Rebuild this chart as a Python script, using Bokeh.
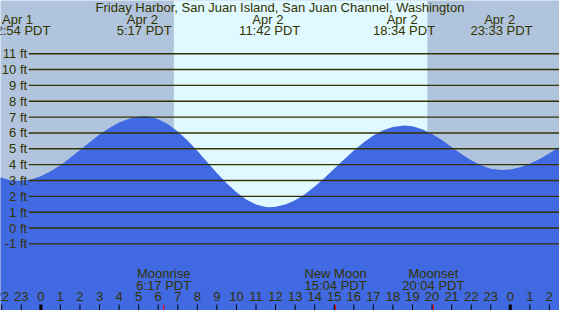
from bokeh.plotting import figure
from bokeh.models import Range1d
from bokeh.core.properties import value
from bokeh.embed import file_html
from bokeh.resources import INLINE

# ---- data (hours relative to Apr 2 00:00 PDT, heights in ft) ----
title = "Friday Harbor, San Juan Island, San Juan Channel, Washington"
tide_hours = [-3, -2.5, -2, -1.5, -1.1, -0.5, 0, 0.5, 1, 1.5, 2, 2.5, 3, 3.5, 4, 4.5,
              5, 5.283, 5.5, 6, 6.5, 7, 7.5, 8, 8.5, 9, 9.5, 10, 10.5, 11, 11.5, 11.7,
              12, 12.5, 13, 13.5, 14, 14.5, 15, 15.5, 16, 16.5, 17, 17.5, 18, 18.567,
              19, 19.5, 20, 20.5, 21, 21.5, 22, 22.5, 23, 23.55, 24, 24.5, 25, 25.5,
              26, 26.5, 27]
tide_ft = [3.6, 3.38, 3.17, 3.0, 2.98, 3.07, 3.27, 3.58, 3.97, 4.43, 4.93, 5.42, 5.90,
           6.32, 6.66, 6.90, 7.03, 7.05, 7.03, 6.87, 6.55, 6.09, 5.52, 4.87, 4.17, 3.47,
           2.83, 2.26, 1.80, 1.49, 1.33, 1.32, 1.34, 1.49, 1.76, 2.14, 2.62, 3.16, 3.74,
           4.32, 4.89, 5.40, 5.84, 6.17, 6.38, 6.47, 6.42, 6.23, 5.94, 5.55, 5.12, 4.68,
           4.28, 3.96, 3.74, 3.66, 3.70, 3.84, 4.06, 4.36, 4.72, 5.11, 5.52]

ext_hours = [-1.1, 5.283, 11.7, 18.567, 23.55]
ext_dates = ["Apr  1", "Apr  2", "Apr  2", "Apr  2", "Apr  2"]
ext_times = ["22:54 PDT", "5:17 PDT", "11:42 PDT", "18:34 PDT", "23:33 PDT"]

moon_hours = [6.283, 15.067, 20.067]
moon_names = ["Moonrise", "New Moon", "Moonset"]
moon_times = ["6:17 PDT", "15:04 PDT", "20:04 PDT"]

sunrise_hour = 6.80
sunset_hour = 19.76

ft_levels = list(range(-1, 12))
ft_labels = [f"{v} ft" for v in ft_levels]

tick_hours = list(range(-2, 27))
tick_labels = [str(h % 24) for h in tick_hours]

# ---- styles ----
NIGHT = "#B0C4DE"
DAY = "#E0F8FF"
WATER = "#4169E1"
INK = "#333300"
FONT = value("Liberation Sans")
FS = "13px"

X0, X1 = -2.063, 26.516
Y0, Y1 = -5.20, 14.355

p = figure(width=559, height=310, output_backend="svg", toolbar_location=None,
           x_range=Range1d(X0, X1), y_range=Range1d(Y0, Y1),
           x_axis_type=None, y_axis_type=None, min_border=0)
p.grid.visible = False
p.outline_line_color = None
p.background_fill_color = NIGHT
p.border_fill_color = NIGHT

# daylight band
p.quad(left=[sunrise_hour], right=[sunset_hour], bottom=[Y0], top=[Y1],
       fill_color=DAY, line_color=None)

# water
p.varea(x=tide_hours, y1=[Y0] * len(tide_hours), y2=tide_ft, fill_color=WATER)

# horizontal ft lines
p.segment(x0=[-0.62] * len(ft_levels), x1=[X1 + 1] * len(ft_levels),
          y0=ft_levels, y1=ft_levels, line_color=INK, line_width=1.4)
p.text(x=[-0.70] * len(ft_levels), y=ft_levels, text=ft_labels,
       text_font=FONT, text_font_size=FS, text_color=INK,
       text_align="right", text_baseline="middle")

# title and extreme labels
p.text(x=[(X0 + X1) / 2], y=[13.94], text=[title], text_font=FONT,
       text_font_size=FS, text_color=INK, text_align="center",
       text_baseline="middle")
p.text(x=ext_hours, y=[13.16] * len(ext_hours), text=ext_dates, text_font=FONT,
       text_font_size=FS, text_color=INK, text_align="center",
       text_baseline="middle")
p.text(x=ext_hours, y=[12.44] * len(ext_hours), text=ext_times, text_font=FONT,
       text_font_size=FS, text_color=INK, text_align="center",
       text_baseline="middle")

# moon events
p.text(x=moon_hours, y=[-2.86] * 3, text=moon_names, text_font=FONT,
       text_font_size=FS, text_color=INK, text_align="center",
       text_baseline="middle")
p.text(x=moon_hours, y=[-3.64] * 3, text=moon_times, text_font=FONT,
       text_font_size=FS, text_color=INK, text_align="center",
       text_baseline="middle")

# hour ticks and labels
p.text(x=tick_hours, y=[-4.34] * len(tick_hours), text=tick_labels, text_font=FONT,
       text_font_size=FS, text_color=INK, text_align="center",
       text_baseline="middle")
minor = [h for h in tick_hours if h % 24 != 0]
major = [h for h in tick_hours if h % 24 == 0]
p.segment(x0=minor, x1=minor, y0=[-4.82] * len(minor), y1=[Y0] * len(minor),
          line_color="black", line_width=1)
p.segment(x0=major, x1=major, y0=[-4.82] * len(major), y1=[Y0] * len(major),
          line_color="black", line_width=3)
p.segment(x0=moon_hours, x1=moon_hours, y0=[-4.82] * 3, y1=[Y0] * 3,
          line_color="red", line_width=1)

open("out.html", "w").write(file_html(p, INLINE))
